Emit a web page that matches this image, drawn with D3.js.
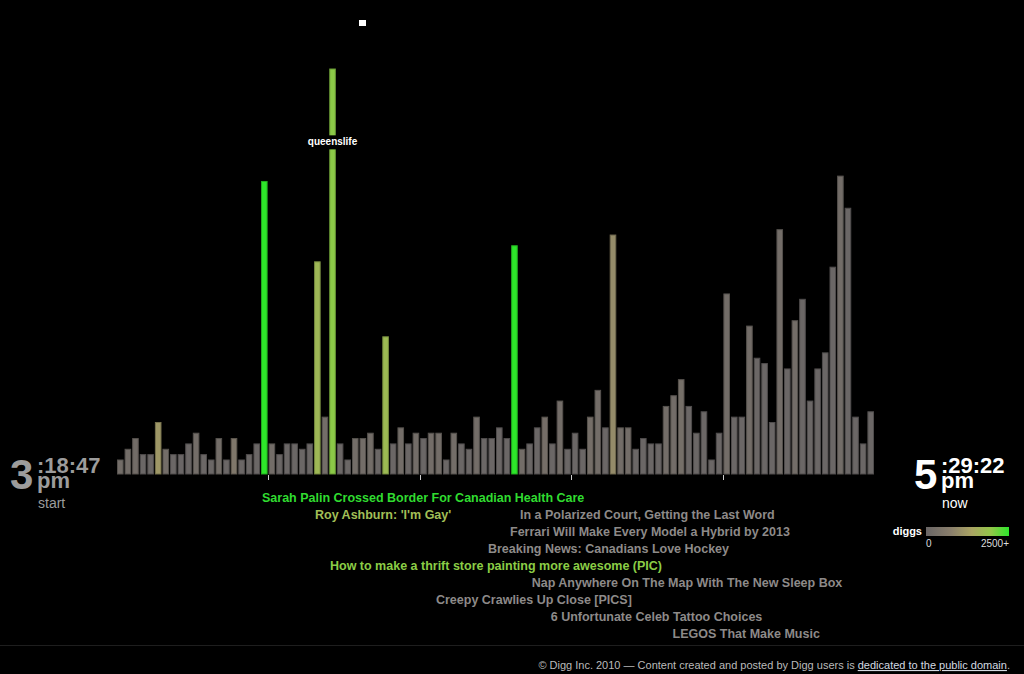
<!DOCTYPE html>
<html>
<head>
<meta charset="utf-8">
<script src="https://cdn.jsdelivr.net/npm/d3@7"></script>
<style>
  html, body { margin: 0; padding: 0; background: #000; }
  svg { display: block; font-family: "Liberation Sans", Arial, Helvetica, sans-serif; }
</style>
</head>
<body>
<svg id="chart" width="1024" height="674"></svg>
<script>
// stories per time bucket (bar height)
const counts = [
  2, 4, 6, 3, 3, 9, 4, 3, 3, 5,
  7, 3, 2, 6, 2, 6, 2, 3, 5, 54,
  5, 3, 5, 5, 4, 5, 39, 10, 75, 5,
  2, 6, 6, 7, 4, 25, 5, 8, 5, 7,
  6, 7, 7, 2, 7, 5, 4, 10, 6, 6,
  8, 6, 42, 4, 5, 8, 10, 5, 13, 4,
  7, 4, 10, 15, 8, 44, 8, 8, 4, 6,
  5, 5, 12, 14, 17, 12, 7, 11, 2, 7,
  33, 10, 10, 27, 21, 20, 9, 45, 19, 28,
  32, 13, 19, 22, 38, 55, 49, 10, 5, 11
];
// diggs per bucket (bar colour)
const diggs = [
  200, 200, 180, 20, 20, 1150, 200, 20, 10, 20,
  200, 20, 20, 200, 20, 500, 20, 20, 20, 2600,
  200, 20, 20, 20, 20, 20, 1700, 220, 2000, 20,
  20, 200, 200, 200, 20, 1750, 20, 200, 20, 200,
  20, 200, 200, 20, 200, 20, 20, 220, 20, 20,
  20, 20, 2600, 200, 20, 20, 250, 20, 200, 20,
  20, 20, 250, 200, 20, 950, 220, 220, 20, 20,
  20, 20, 220, 220, 260, 20, 20, 20, 20, 20,
  220, 20, 20, 220, 20, 20, 20, 220, 20, 200,
  20, 20, 20, 20, 20, 220, 20, 20, 20, 20
];

const headlines = [
  "Sarah Palin Crossed Border For Canadian Health Care",
  "Roy Ashburn: 'I'm Gay'",
  "In a Polarized Court, Getting the Last Word",
  "Ferrari Will Make Every Model a Hybrid by 2013",
  "Breaking News: Canadians Love Hockey",
  "How to make a thrift store painting more awesome (PIC)",
  "Nap Anywhere On The Map With The New Sleep Box",
  "Creepy Crawlies Up Close [PICS]",
  "6 Unfortunate Celeb Tattoo Choices",
  "LEGOS That Make Music"
];
// where each story sits on the timeline, in buckets from the start
const headlineAt = [19.13, 26.12, 53.17, 51.85, 48.94, 28.1, 54.71, 42.08, 57.22, 73.3];
const headlineDiggs = [2600, 1700, 40, 60, 90, 2000, 50, 50, 40, 40];

const tickBuckets = [20, 40, 60, 80];
const startLabel = ["3", ":18:47", "pm", "start"];
const nowLabel = ["5", ":29:22", "pm", "now"];

const legendDomain = [0, 750, 1375, 1950, 2500];
const legendRange = ["#6a6666", "#8a7f6c", "#aaa463", "#94c64a", "#2ee62a"];
const headRange = ["#8c8a8a", "#9a9080", "#b4ae6a", "#94cc48", "#30dc30"];
const legendTicks = ["0", "2500+"];

const topUser = { bucket: 28, level: 60, name: "queenslife" };

const footerText = "\u00a9 Digg Inc. 2010 \u2014 Content created and posted by Digg users is ";
const footerLink = "dedicated to the public domain";

// ---------------------------------------------------------------
const svg = d3.select("#chart");
const base = 474;

const x = d3.scaleBand()
  .domain(d3.range(counts.length))
  .range([117, 874])
  .paddingInner(0.13)
  .paddingOuter(0);
const step = x.step();
const gap = step - x.bandwidth();
const xt = d3.scaleLinear().domain([0, counts.length]).range([117, 117 + counts.length * step]);

const y = d3.scaleLinear().domain([0, 75]).range([470.7, 69]);

const color = d3.scaleLinear().domain(legendDomain).range(legendRange).clamp(true);
const headColor = d3.scaleLinear().domain(legendDomain).range(headRange).clamp(true);

// little loading square
svg.append("rect").attr("x", 359).attr("y", 20).attr("width", 7).attr("height", 6).attr("fill", "#fff");

// bars
svg.append("g").attr("class", "bars")
  .selectAll("rect")
  .data(counts)
  .join("rect")
  .attr("x", (d, i) => x(i) + 0.5)
  .attr("width", x.bandwidth() - 1)
  .attr("y", (d) => y(d))
  .attr("height", (d) => base - y(d))
  .attr("fill", (d, i) => color(diggs[i]))
  .attr("stroke", (d, i) => d3.color(color(diggs[i])).darker(0.8))
  .attr("stroke-width", 1);

// ticks under the bars
svg.append("g").attr("class", "ticks")
  .selectAll("line")
  .data(tickBuckets)
  .join("line")
  .attr("x1", (d) => Math.round(x(d) - gap / 2) + 0.5)
  .attr("x2", (d) => Math.round(x(d) - gap / 2) + 0.5)
  .attr("y1", base + 1)
  .attr("y2", base + 6)
  .attr("stroke", "#ccc");

// top user label over the tallest bar
const ux = x(topUser.bucket) + x.bandwidth() / 2;
const uy = y(topUser.level);
const ulabel = svg.append("g");
const ut = ulabel.append("text")
  .attr("x", ux).attr("y", uy - 4)
  .attr("text-anchor", "middle")
  .attr("font-size", 10).attr("font-weight", "bold")
  .attr("fill", "#fff")
  .text(topUser.name);
const ub = ut.node().getBBox();
ulabel.insert("rect", "text")
  .attr("x", ub.x - 3).attr("y", uy - 14)
  .attr("width", ub.width + 6).attr("height", 14)
  .attr("fill", "#000");

// headlines, stacked: same row only when it clears the previous one
const hg = svg.append("g").attr("class", "headlines");
let row = 0;
let rowEnd = -Infinity;
headlines.forEach((t, i) => {
  const hx = xt(headlineAt[i]);
  const node = hg.append("text")
    .attr("x", hx)
    .attr("font-size", 12.5).attr("font-weight", "bold")
    .attr("fill", headColor(headlineDiggs[i]))
    .text(t);
  const w = node.node().getComputedTextLength();
  if (i > 0 && hx <= rowEnd + 10) row += 1;
  rowEnd = hx + w;
  node.attr("y", 501.7 + row * 17);
});

// start / now clocks
function clock(g, lbl, left, fill) {
  g.append("text").attr("x", left).attr("y", 489)
    .attr("font-size", 42).attr("font-weight", "bold").attr("fill", fill).text(lbl[0]);
  const sx = left + 27;
  const t = g.append("text")
    .attr("font-size", 22).attr("font-weight", "bold").attr("fill", fill);
  t.append("tspan").attr("x", sx).attr("y", 473).text(lbl[1]);
  t.append("tspan").attr("x", sx).attr("y", 488).text(lbl[2]);
  g.append("text").attr("x", sx + 1).attr("y", 507.5)
    .attr("font-size", 14).attr("fill", fill).text(lbl[3]);
}
clock(svg.append("g"), startLabel, 10, "#9c9c9c");
clock(svg.append("g"), nowLabel, 914, "#fff");

// diggs legend
const defs = svg.append("defs");
const grad = defs.append("linearGradient").attr("id", "diggs-grad");
legendDomain.forEach((d, i) => {
  grad.append("stop")
    .attr("offset", d / legendDomain[legendDomain.length - 1])
    .attr("stop-color", legendRange[i]);
});
const lg = svg.append("g").attr("class", "legend");
lg.append("text").attr("x", 922).attr("y", 534.5)
  .attr("text-anchor", "end").attr("font-size", 11).attr("font-weight", "bold")
  .attr("fill", "#fff").text("diggs");
lg.append("rect").attr("x", 926).attr("y", 527).attr("width", 83).attr("height", 9)
  .attr("fill", "url(#diggs-grad)");
lg.append("text").attr("x", 926).attr("y", 547)
  .attr("font-size", 10).attr("fill", "#ddd").text(legendTicks[0]);
lg.append("text").attr("x", 1009).attr("y", 547).attr("text-anchor", "end")
  .attr("font-size", 10).attr("fill", "#ddd").text(legendTicks[1]);

// footer
svg.append("line").attr("x1", 0).attr("x2", 1024).attr("y1", 645.5).attr("y2", 645.5)
  .attr("stroke", "#1e1e1e");
const ft = svg.append("text").attr("x", 1010).attr("y", 669)
  .attr("text-anchor", "end").attr("font-size", 11).attr("fill", "#bbb");
ft.append("tspan").text(footerText);
ft.append("tspan").attr("fill", "#d4dae2").attr("text-decoration", "underline").text(footerLink);
ft.append("tspan").text(".");
</script>
</body>
</html>
